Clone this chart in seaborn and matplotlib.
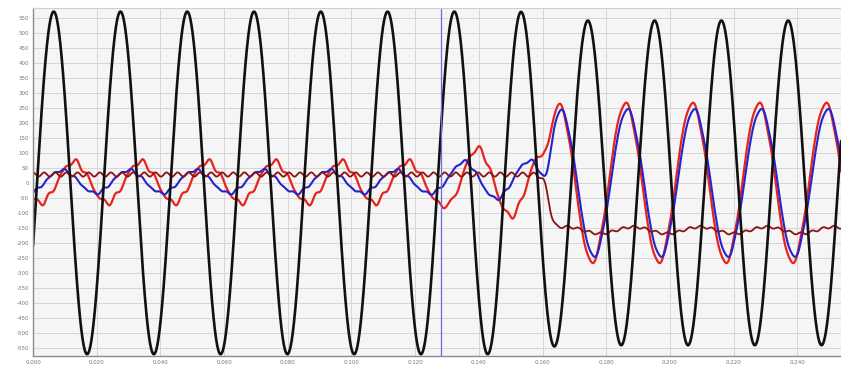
import numpy as np
import pandas as pd
import seaborn as sns
import matplotlib
matplotlib.use("Agg")
import matplotlib.pyplot as plt

# ---- values ----
freq_hz = 47.7          # common fundamental of all traces
t_end = 0.2537

x_ticks = [0.000, 0.020, 0.040, 0.060, 0.080, 0.100, 0.120,
           0.140, 0.160, 0.180, 0.200, 0.220, 0.240]
y_ticks = list(range(-550, 551, 50))

# black trace (voltage): peak before / after the event, first positive peak
v_amp = [572, 542]
v_peak_t = 0.0065
v_switch_t = 0.160

# current traces, 3 segments: steady, growing, after the event
seg_switch_t = [0.131, 0.1615]

red_amp = [68, 112, 265]
red_peak_t = [0.0128, 0.1395, 0.1860]
red_h5 = [7, 8, 4]
red_h7 = [4, 4, 2]
red_offset = [2, 2, 0]

blue_amp = [38, 63, 245]
blue_peak_t = [0.0091, 0.1350, 0.1866]
blue_h5 = [3, 4, 3]
blue_h7 = [3, 3, 2]
blue_offset = [4, 11, 0]

# dark red trace: level, slow swing, 6th-harmonic ripple
dred_level = [28, 32, -158]
dred_swing = [0, 0, 11]
dred_swing_peak_t = [0.0, 0.0, 0.1885]
dred_ripple = [7, 7, 4]
dred_switch_t = 0.162

cursor_t = 0.1282


t = np.linspace(0, t_end, 6000)
T = 1.0 / freq_hz


def step(t0, tau):
    return 1.0 / (1.0 + np.exp(-(t - t0) / tau))


def wave(amp, peak_t, h5, h7, off):
    th = 2 * np.pi * (t - peak_t) / T
    return (off + amp * np.cos(th) + h5 * np.sin(5 * th + 0.6)
            + h7 * np.sin(7 * th - 0.4))


def blend(segs, taus):
    y = segs[0]
    for s, t0, tau in zip(segs[1:], seg_switch_t, taus):
        w = step(t0, tau)
        y = y * (1 - w) + s * w
    return y


def current(amp, peak_t, h5, h7, off):
    segs = [wave(amp[i], peak_t[i], h5[i], h7[i], off[i]) for i in range(3)]
    return blend(segs, [0.002, 0.0009])


red = current(red_amp, red_peak_t, red_h5, red_h7, red_offset)
blue = current(blue_amp, blue_peak_t, blue_h5, blue_h7, blue_offset)

dsegs = []
for i in range(3):
    th = 2 * np.pi * (t - dred_swing_peak_t[i]) / T
    dsegs.append(dred_level[i] + dred_swing[i] * np.cos(th)
                 + dred_ripple[i] * np.cos(6 * 2 * np.pi * t / T))
w = step(dred_switch_t, 0.0008)
dred = dsegs[0] * (1 - w) + dsegs[2] * w

w = step(v_switch_t, 0.002)
volt = (v_amp[0] * (1 - w) + v_amp[1] * w) * np.cos(2 * np.pi * (t - v_peak_t) / T)

df = pd.DataFrame({"t": t, "red": red, "blue": blue, "dred": dred, "volt": volt})

sns.set_style("whitegrid")
fig = plt.figure(figsize=(8.41, 3.69), dpi=100)
ax = fig.add_axes([33 / 841, 13 / 369, 808 / 841, 348 / 369])
ax.set_facecolor("#f5f5f5")

sns.lineplot(data=df, x="t", y="red", color="#e8231c", linewidth=1.6, ax=ax, sort=False)
sns.lineplot(data=df, x="t", y="blue", color="#2424cc", linewidth=1.5, ax=ax, sort=False)
sns.lineplot(data=df, x="t", y="dred", color="#8a1414", linewidth=1.3, ax=ax, sort=False)
sns.lineplot(data=df, x="t", y="volt", color="#111111", linewidth=1.9, ax=ax, sort=False)
ax.axvline(cursor_t, color="#6b6be0", linewidth=0.9)

ax.set_xlim(0, t_end)
ax.set_ylim(-578, 584)
ax.set_xticks(x_ticks)
ax.set_xticklabels([f"{v:.3f}" for v in x_ticks])
ax.set_yticks(y_ticks)
ax.set_yticklabels([str(v) for v in y_ticks])
ax.tick_params(axis="both", labelsize=4, colors="#777777", length=0, pad=3)
ax.set_xlabel("")
ax.set_ylabel("")
ax.grid(True, color="#d6d6d6", linewidth=0.7)
for side in ["left", "bottom"]:
    ax.spines[side].set_color("#8c8c8c")
    ax.spines[side].set_linewidth(1.0)
ax.spines["top"].set_color("#cfcfcf")
ax.spines["right"].set_visible(False)

fig.savefig("out.png", dpi=100)
